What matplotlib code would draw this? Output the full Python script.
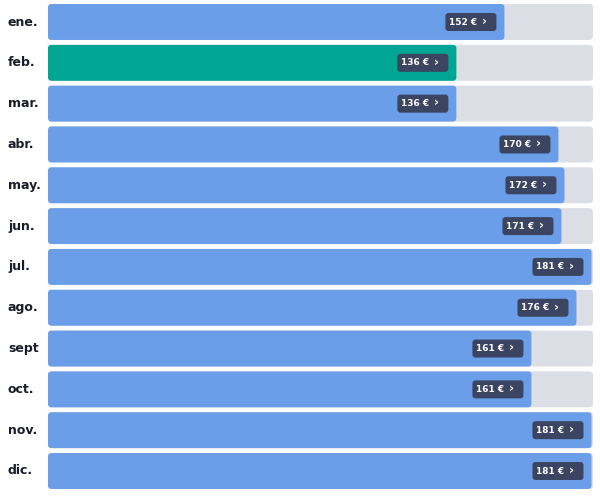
import matplotlib.pyplot as plt
from matplotlib.patches import FancyBboxPatch

# Monthly prices (EUR)
months = ['ene.', 'feb.', 'mar.', 'abr.', 'may.', 'jun.',
          'jul.', 'ago.', 'sept', 'oct.', 'nov.', 'dic.']
prices = [152, 136, 136, 170, 172, 171, 181, 176, 161, 161, 181, 181]
highlight = 'feb.'
track_max = 181.5

blue = '#6b9ee8'
green = '#00a693'
track = '#dcdee5'
badge = '#3b4461'

fig = plt.figure(figsize=(6, 4.99), dpi=100)
ax = fig.add_axes([0.08, 0.0152, 0.9083, 0.9816])
ax.set_xlim(0, track_max)
ax.set_ylim(11.5, -0.5)
ax.axis('off')

h = 0.88
px_x = 545 / track_max
px_y = 489.8 / 12
asp = (1 / px_y) / (1 / px_x)

# badge geometry in pixels -> data units
gap = 8 / px_x
bw = 51 / px_x
bh = 18 / px_y

for i, (m, v) in enumerate(zip(months, prices)):
    # background track
    ax.add_patch(FancyBboxPatch((0, i - h / 2), track_max, h,
                                boxstyle='round,pad=0,rounding_size=1.2',
                                mutation_aspect=asp, fc=track, ec='none'))
    col = green if m == highlight else blue
    ax.add_patch(FancyBboxPatch((0, i - h / 2), v, h,
                                boxstyle='round,pad=0,rounding_size=1.2',
                                mutation_aspect=asp, fc=col, ec='none'))
    # price badge
    x0 = v - gap - bw
    ax.add_patch(FancyBboxPatch((x0, i - bh / 2), bw, bh,
                                boxstyle='round,pad=0,rounding_size=1.0',
                                mutation_aspect=asp, fc=badge, ec='none'))
    ax.text(x0 + 4 / px_x, i, f'{v} €', ha='left', va='center',
            fontsize=6.5, fontweight='bold', color='white')
    ax.text(v - gap - 12 / px_x, i - 0.02, '›', ha='center', va='center',
            fontsize=9, fontweight='bold', color='white')
    fig.text(8 / 600, 1 - (1.6 + (i + 0.5) * px_y) / 499, m,
             ha='left', va='center', fontsize=9, fontweight='bold',
             color='#1a1d29')

fig.savefig('out.png', dpi=100)
